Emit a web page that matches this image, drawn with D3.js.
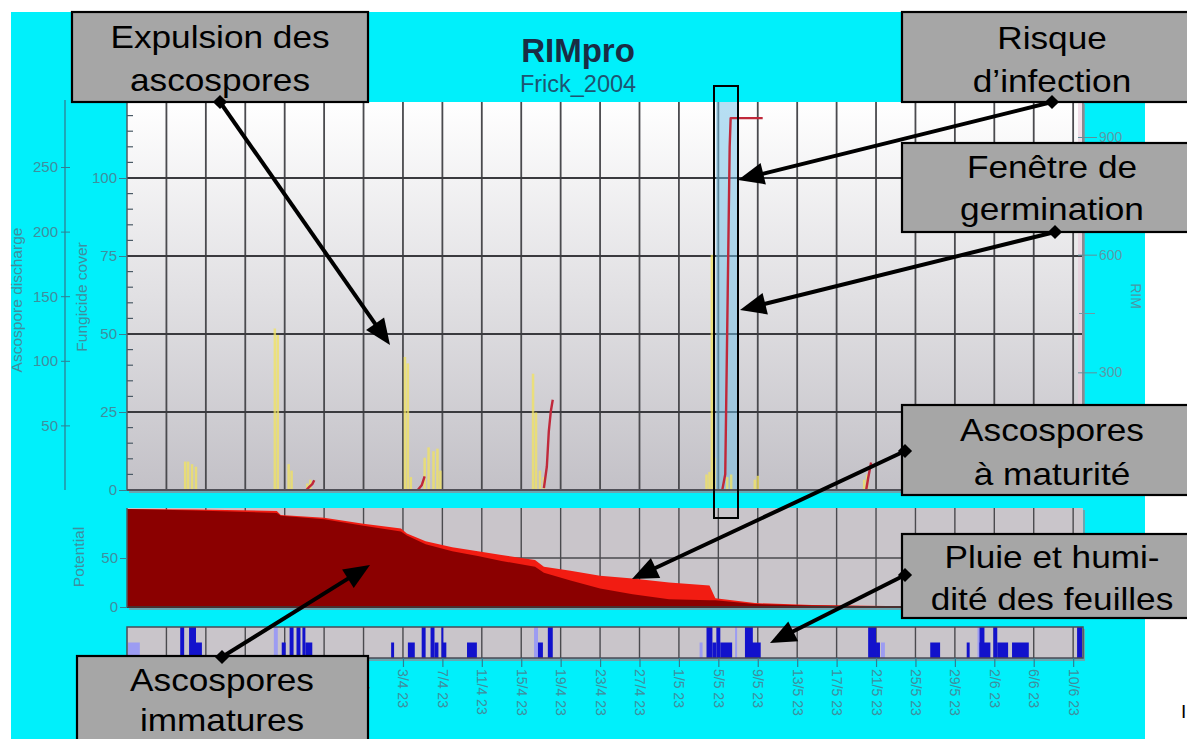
<!DOCTYPE html>
<html><head><meta charset="utf-8">
<script src="https://cdn.jsdelivr.net/npm/d3@7"></script>
<style>
body{margin:0;background:#fff;}
svg{display:block;font-family:"Liberation Sans",Arial,Helvetica,sans-serif;}
</style>
</head><body>
<svg id="chart" width="1187" height="739"></svg>
<script>
// ---------------- DATA ----------------
// x positions are in days since 6 March 2004 (00:00)
const tickDays   = [4,8,12,16,20,24,28,32,36,40,44,48,52,56,60,64,68,72,76,80,84,88,92,96];
const tickLabels = ["10/3 23","14/3 23","18/3 23","22/3 23","26/3 23","30/3 23","3/4 23","7/4 23","11/4 23","15/4 23","19/4 23","23/4 23","27/4 23","1/5 23","5/5 23","9/5 23","13/5 23","17/5 23","21/5 23","25/5 23","29/5 23","2/6 23","6/6 23","10/6 23"];

const fungicideTicks = [0,25,50,75,100];
const dischargeTicks = [50,100,150,200,250];
const rimTicks       = [300,600,900];
const potentialTicks = [0,50];

// ascospore discharge (yellow)
const dischargeDays   = [5.9,6.2,6.6,7.0, 15.0,15.3,16.4,16.7,18.3,18.6, 28.2,28.5,28.8,30.2,30.6,31.1,31.5,31.8, 41.2,41.5,41.9,42.3, 58.8,59.1,59.35,59.6,60.9,61.3,63.7,64.0, 74.8,75.1];
const dischargeValues = [22,22,20,18, 125,120,20,15,5,8, 103,98,10,25,33,30,32,15, 90,60,15,10, 12,14,182,25,10,12,8,11, 8,12];

// RIM (red line), null = gap
const rimDays   = [18.2,18.5,18.8,19.0,null, 29.5,29.9,30.2,null, 42.3,42.6,42.8,43.0,43.2,null, 60.4,60.7,60.95,61.15,61.25,64.5,null, 75.0,75.2,75.5];
const rimValues = [0,8,15,25,null, 0,12,35,null, 5,60,150,200,230,null, 0,40,500,875,948,948,null, 0,30,70];

// infection window (light blue band)
const windowStart = 59.75, windowEnd = 61.9;

// ascospore potential (total and mature part)
const potDays    = [0,7,15.2,15.6,20,24,27.8,28.4,30.3,33,35.6,38,41.4,42.3,45,48,51.3,55,59.1,59.7,63.7,69.5,77,97];
const potTotal   = [100,99.5,98,94,91,85,80,75,67,61,57,53,48,41,37,32,29,25,22,9,4,2,1,0.8];
const potMature  = [0,1,2,1,1.5,2,3,2,3,4,5,6,7,6,10,13,16,17,15,2,1,0.5,0.3,0.2];

// rain / leaf wetness bars: start day, end day, level (1 full, 0.5 half), kind (1 rain dark, 0 wetness light)
const rainStart = [0.1,5.4,6.3,7.0, 14.9,15.7,16.5,17.2,17.8,18.1, 26.8,28.5,29.9,30.8,31.2,31.9,32.0,34.5, 41.3,41.7,42.7, 58.1,58.8,59.4,59.8,60.2,61.7,62.7,62.9, 75.2,76.0,76.5, 81.5,85.2,86.3,86.5,86.5,87.9,88.3,89.8,96.4];
const rainEnd   = [1.3,5.8,7.0,7.6, 15.3,16.1,16.9,17.6,18.1,18.8, 27.1,29.2,30.3,31.2,31.6,32.1,32.4,35.5, 41.7,42.2,43.2, 58.4,59.4,59.8,60.2,61.4,61.9,63.5,64.3, 76.0,76.4,76.9, 82.5,85.5,86.5,87.0,87.6,88.3,89.4,91.5,96.9];
const rainLevel = [0.5,1,1,0.5, 1,0.5,1,1,1,0.5, 0.5,0.5,1,1,0.5,1,0.5,0.5, 1,0.5,1, 0.5,1,0.5,1,0.5,1,1,0.5, 1,0.5,0.5, 0.5,0.5,1,1,0.5,1,0.5,0.5,1];
const rainKind  = [0,1,1,1, 0,1,1,1,1,1, 1,1,1,1,1,1,1,1, 0,1,1, 0,1,1,1,1,0,1,1, 1,1,0, 1,1,0,1,1,1,1,1,1];

// call-out annotations
const notes = [
  {lines:["Expulsion des","ascospores"], box:[72,12,368,102], cx:220, base:[48,91], from:[220,102], to:[390,345]},
  {lines:["Risque","d\u2019infection"], box:[902,12,1200,102], cx:1052, base:[49,92], from:[1052,102], to:[738,180]},
  {lines:["Fen\u00eatre de","germination"], box:[902,143,1200,232], cx:1052, base:[178,220], from:[1055,232], to:[740,310]},
  {lines:["Ascospores","\u00e0 maturit\u00e9"], box:[902,405,1200,495], cx:1052, base:[441,485], from:[905,451], to:[632,579]},
  {lines:["Pluie et humi-","dit\u00e9 des feuilles"], box:[902,534,1200,618], cx:1052, base:[568,610], from:[905,575], to:[770,643]},
  {lines:["Ascospores","immatures"], box:[77,656,368,760], cx:222, base:[691,731], from:[222,657], to:[370,565]}
];

// ---------------- LAYOUT ----------------
const svg = d3.select("#chart");
const L = 127, R = 1083;
const main = {top:102, bottom:490};
const pot  = {top:508, bottom:607};
const rain = {top:627, bottom:658};
const cyan = "#00f0fb";
const tickCol = "#3f8e9e";

const x = d3.scaleLinear().domain([0,97]).range([L, R]);
const yFung = d3.scaleLinear().domain([0,100]).range([main.bottom, 178]);
const yDis  = d3.scaleLinear().domain([0,250]).range([main.bottom, 167]);
const yRim  = d3.scaleLinear().domain([0,900]).range([main.bottom, 137]);
const yPot  = d3.scaleLinear().domain([0,100]).range([pot.bottom, pot.top+1]);
const yRain = d3.scaleLinear().domain([0,1]).range([rain.bottom, rain.top]);

const defs = svg.append("defs");
const grad = defs.append("linearGradient").attr("id","bg").attr("x1",0).attr("y1",0).attr("x2",0).attr("y2",1);
grad.append("stop").attr("offset","0%").attr("stop-color","#ffffff");
grad.append("stop").attr("offset","100%").attr("stop-color","#c3c1c7");
defs.append("clipPath").attr("id","clipMain").append("rect").attr("x",L).attr("y",main.top).attr("width",R-L).attr("height",main.bottom-main.top);
defs.append("clipPath").attr("id","clipPot").append("rect").attr("x",L).attr("y",pot.top).attr("width",R-L).attr("height",pot.bottom-pot.top);
defs.append("clipPath").attr("id","clipRain").append("rect").attr("x",L).attr("y",rain.top).attr("width",R-L).attr("height",rain.bottom-rain.top);

// backgrounds
svg.append("rect").attr("width",1187).attr("height",739).attr("fill","#fff");
svg.append("rect").attr("x",11).attr("y",12).attr("width",1145-11).attr("height",739-12).attr("fill",cyan);

// ---------- main panel ----------
svg.append("rect").attr("x",L+2).attr("y",main.top+2).attr("width",R-L).attr("height",main.bottom-main.top+1).attr("fill","#6aa6b0");
svg.append("rect").attr("x",L).attr("y",main.top).attr("width",R-L).attr("height",main.bottom-main.top).attr("fill","url(#bg)");
svg.append("rect").attr("x",R-5).attr("y",main.top).attr("width",4).attr("height",main.bottom-main.top).attr("fill","#e8c8d8").attr("opacity",0.6);

const gMain = svg.append("g").attr("clip-path","url(#clipMain)");
// grid
gMain.selectAll("line.vg").data(tickDays).join("line")
  .attr("x1",d=>x(d)).attr("x2",d=>x(d)).attr("y1",main.top).attr("y2",main.bottom)
  .attr("stroke","#4a4a4e").attr("stroke-width",1.8);
gMain.selectAll("line.hg").data(fungicideTicks.filter(d=>d>0)).join("line")
  .attr("x1",L).attr("x2",R).attr("y1",d=>yFung(d)).attr("y2",d=>yFung(d))
  .attr("stroke","#3a3a3e").attr("stroke-width",1.8);

// infection window
gMain.append("rect").attr("x",x(windowStart)).attr("width",x(windowEnd)-x(windowStart))
  .attr("y",main.top).attr("height",main.bottom-main.top).attr("fill","#6fbfe8").attr("opacity",0.5);

// discharge bars
const dis = dischargeDays.map((d,i)=>({d, v:dischargeValues[i]}));
gMain.selectAll("rect.dis").data(dis).join("rect")
  .attr("x",d=>x(d.d)-1.25).attr("width",2.5)
  .attr("y",d=>yDis(d.v)).attr("height",d=>main.bottom-yDis(d.v))
  .attr("fill","#f2e35e").attr("opacity",0.75);

// RIM line
const rim = rimDays.map((d,i)=>({d, v:rimValues[i]}));
gMain.append("path").datum(rim)
  .attr("d", d3.line().defined(p=>p.d!==null).x(p=>x(p.d)).y(p=>yRim(p.v)))
  .attr("fill","none").attr("stroke","#c0283a").attr("stroke-width",2.4).attr("stroke-linejoin","round");

// main axes
svg.append("line").attr("x1",L).attr("x2",L).attr("y1",main.top).attr("y2",main.bottom).attr("stroke","#505a60").attr("stroke-width",1.5);
svg.append("line").attr("x1",L).attr("x2",R).attr("y1",main.bottom).attr("y2",main.bottom).attr("stroke","#505058").attr("stroke-width",2);
// fungicide axis
const fungAxis = d3.axisLeft(yFung).tickValues(fungicideTicks).tickSize(8).tickPadding(2);
const fa = svg.append("g").attr("transform",`translate(${L},0)`).call(fungAxis);
fa.select(".domain").remove();
fa.selectAll("line").attr("stroke","#3a7f90");
fa.selectAll("text").attr("fill",tickCol).attr("font-size",15).attr("font-family","Liberation Sans, Arial");
const minor = d3.range(5,125,5).filter(v=>v%25!==0);
svg.append("g").selectAll("line").data(minor).join("line")
  .attr("x1",L).attr("x2",L+6).attr("y1",d=>yFung(d)).attr("y2",d=>yFung(d))
  .attr("stroke","#4a5a66").attr("stroke-width",1.2);
// discharge axis
const DX = 65;
svg.append("line").attr("x1",DX).attr("x2",DX).attr("y1",100).attr("y2",main.bottom).attr("stroke","#2f7f92").attr("stroke-width",1.3);
const disAxis = d3.axisLeft(yDis).tickValues(dischargeTicks).tickSize(5).tickPadding(2);
const da = svg.append("g").attr("transform",`translate(${DX},0)`).call(disAxis);
da.select(".domain").remove();
da.selectAll("line").attr("stroke","#2f7f92").attr("x2",5).attr("x1",-4);
da.selectAll("text").attr("fill",tickCol).attr("font-size",15).attr("font-family","Liberation Sans, Arial");
// RIM axis
svg.append("line").attr("x1",R).attr("x2",R).attr("y1",main.top).attr("y2",main.bottom).attr("stroke","#8a8a90").attr("stroke-width",2);
const rimAxis = d3.axisRight(yRim).tickValues(rimTicks).tickSize(14).tickPadding(2);
const ra = svg.append("g").attr("transform",`translate(${R},0)`).call(rimAxis);
ra.select(".domain").remove();
ra.selectAll("line").attr("stroke","#5f8f9a").attr("x1",-5);
ra.selectAll("text").attr("fill","#5a9aa8").attr("font-size",14).attr("font-family","Liberation Sans, Arial");
svg.append("g").selectAll("line").data([150,450,750]).join("line")
  .attr("x1",R-4).attr("x2",R+12).attr("y1",d=>yRim(d)).attr("y2",d=>yRim(d)).attr("stroke","#6f9aa4").attr("stroke-width",1);

// axis titles
svg.append("text").attr("transform","translate(22,300) rotate(-90)").attr("text-anchor","middle")
  .attr("font-size",15.5).attr("fill",tickCol).text("Ascospore discharge");
svg.append("text").attr("transform","translate(87,297) rotate(-90)").attr("text-anchor","middle")
  .attr("font-size",15.5).attr("fill",tickCol).text("Fungicide cover");
svg.append("text").attr("transform","translate(1131,296) rotate(90)").attr("text-anchor","middle")
  .attr("font-size",14).attr("fill","#4a96a6").text("RIM");

// title
svg.append("text").attr("x",578).attr("y",62).attr("text-anchor","middle").attr("font-size",33).attr("font-weight","bold")
  .attr("fill","#1a2d44").text("RIMpro");
svg.append("text").attr("x",578).attr("y",92).attr("text-anchor","middle").attr("font-size",23.5)
  .attr("fill","#1d5572").text("Frick_2004");

// ---------- potential panel ----------
svg.append("rect").attr("x",L+2).attr("y",pot.top+2).attr("width",R-L).attr("height",pot.bottom-pot.top+1).attr("fill","#6aa6b0");
svg.append("rect").attr("x",L).attr("y",pot.top).attr("width",R-L).attr("height",pot.bottom-pot.top).attr("fill","#c9c5ca");
const gPot = svg.append("g").attr("clip-path","url(#clipPot)");
gPot.selectAll("line.vg").data(tickDays).join("line")
  .attr("x1",d=>x(d)).attr("x2",d=>x(d)).attr("y1",pot.top).attr("y2",pot.bottom)
  .attr("stroke","#4a4a4e").attr("stroke-width",1.4);
gPot.append("line").attr("x1",L).attr("x2",R).attr("y1",yPot(50)).attr("y2",yPot(50)).attr("stroke","#4a4a4e").attr("stroke-width",1.4);
const potData = potDays.map((d,i)=>({d, tot:potTotal[i], imm:potTotal[i]-potMature[i]}));
gPot.append("path").datum(potData)
  .attr("d", d3.area().x(p=>x(p.d)).y0(pot.bottom).y1(p=>yPot(p.tot)))
  .attr("fill","#f21c12");
gPot.append("path").datum(potData)
  .attr("d", d3.area().x(p=>x(p.d)).y0(pot.bottom).y1(p=>yPot(p.imm)))
  .attr("fill","#8b0000");
svg.append("line").attr("x1",L).attr("x2",R).attr("y1",pot.bottom).attr("y2",pot.bottom).attr("stroke","#4a3030").attr("stroke-width",2);
svg.append("line").attr("x1",L).attr("x2",L).attr("y1",pot.top).attr("y2",pot.bottom).attr("stroke","#505a60").attr("stroke-width",1.5);
const potAxis = d3.axisLeft(yPot).tickValues(potentialTicks).tickSize(7).tickPadding(2);
const pa = svg.append("g").attr("transform",`translate(${L},0)`).call(potAxis);
pa.select(".domain").remove();
pa.selectAll("line").attr("stroke","#3a7f90");
pa.selectAll("text").attr("fill",tickCol).attr("font-size",15).attr("font-family","Liberation Sans, Arial");
svg.append("text").attr("transform","translate(84,557) rotate(-90)").attr("text-anchor","middle")
  .attr("font-size",15.5).attr("fill",tickCol).text("Potential");

// ---------- rain panel ----------
svg.append("rect").attr("x",L+2).attr("y",rain.top+2).attr("width",R-L).attr("height",rain.bottom-rain.top+1).attr("fill","#6aa6b0");
svg.append("rect").attr("x",L).attr("y",rain.top).attr("width",R-L).attr("height",rain.bottom-rain.top).attr("fill","#c9c5ca");
const gRain = svg.append("g").attr("clip-path","url(#clipRain)");
gRain.selectAll("line.vg").data(tickDays).join("line")
  .attr("x1",d=>x(d)).attr("x2",d=>x(d)).attr("y1",rain.top).attr("y2",rain.bottom)
  .attr("stroke","#4a4a4e").attr("stroke-width",1.4);
const rainData = rainStart.map((s,i)=>({s, e:rainEnd[i], lv:rainLevel[i], k:rainKind[i]}));
gRain.selectAll("rect.r").data(rainData.filter(r=>r.k===0)).join("rect")
  .attr("x",r=>x(r.s)).attr("width",r=>Math.max(1.5,x(r.e)-x(r.s)))
  .attr("y",r=>yRain(r.lv)).attr("height",r=>rain.bottom-yRain(r.lv)).attr("fill","#9c9cf2");
gRain.selectAll("rect.d").data(rainData.filter(r=>r.k===1)).join("rect")
  .attr("x",r=>x(r.s)).attr("width",r=>Math.max(1.5,x(r.e)-x(r.s)))
  .attr("y",r=>yRain(r.lv)).attr("height",r=>rain.bottom-yRain(r.lv)).attr("fill","#1212cc");
svg.append("rect").attr("x",L).attr("y",rain.top).attr("width",R-L).attr("height",rain.bottom-rain.top)
  .attr("fill","none").attr("stroke","#4a4a55").attr("stroke-width",1.5);

// x axis (dates)
const xAxis = d3.axisBottom(x).tickValues(tickDays).tickSize(9).tickFormat((d,i)=>tickLabels[i]);
const xa = svg.append("g").attr("transform",`translate(0,${rain.bottom})`).call(xAxis);
xa.select(".domain").remove();
xa.selectAll("line").attr("stroke","#2f7f92").attr("stroke-width",1.2);
xa.selectAll("text").attr("fill",tickCol).attr("font-size",14).attr("font-family","Liberation Sans, Arial")
  .attr("text-anchor","start").attr("dy",null).attr("y",0)
  .attr("transform","translate(-5,11) rotate(90)");

// ---------- annotations ----------
// highlight rectangle around infection window
svg.append("rect").attr("x",714).attr("y",86).attr("width",24).attr("height",432)
  .attr("fill","none").attr("stroke","#000").attr("stroke-width",2);

const gN = svg.append("g");
notes.forEach(n=>{
  const [x1,y1,x2,y2] = n.box;
  gN.append("rect").attr("x",x1).attr("y",y1).attr("width",x2-x1).attr("height",y2-y1)
    .attr("fill","#a6a6a6").attr("stroke","#000").attr("stroke-width",2.2);
  n.lines.forEach((t,i)=>{
    gN.append("text").attr("transform",`translate(${n.cx},${n.base[i]}) scale(1.1,1)`)
      .attr("text-anchor","middle").attr("font-size",32).attr("fill","#000").text(t);
  });
});
function arrow(x1,y1,x2,y2){
  const HL = 26, HW = 11;
  const dx=x2-x1, dy=y2-y1, len=Math.hypot(dx,dy), ux=dx/len, uy=dy/len;
  const bx=x2-ux*HL, by=y2-uy*HL;
  gN.append("line").attr("x1",x1).attr("y1",y1).attr("x2",bx+ux*2).attr("y2",by+uy*2)
    .attr("stroke","#000").attr("stroke-width",4);
  gN.append("polygon").attr("points",`${x2},${y2} ${bx-uy*HW},${by+ux*HW} ${bx+uy*HW},${by-ux*HW}`).attr("fill","#000");
  gN.append("rect").attr("x",x1-5).attr("y",y1-5).attr("width",10).attr("height",10)
    .attr("transform",`rotate(45 ${x1} ${y1})`).attr("fill","#000");
}
notes.forEach(n=>arrow(n.from[0],n.from[1],n.to[0],n.to[1]));

svg.append("text").attr("x",1181).attr("y",718).attr("font-size",19).attr("fill","#000").text("I");
</script>
</body></html>
